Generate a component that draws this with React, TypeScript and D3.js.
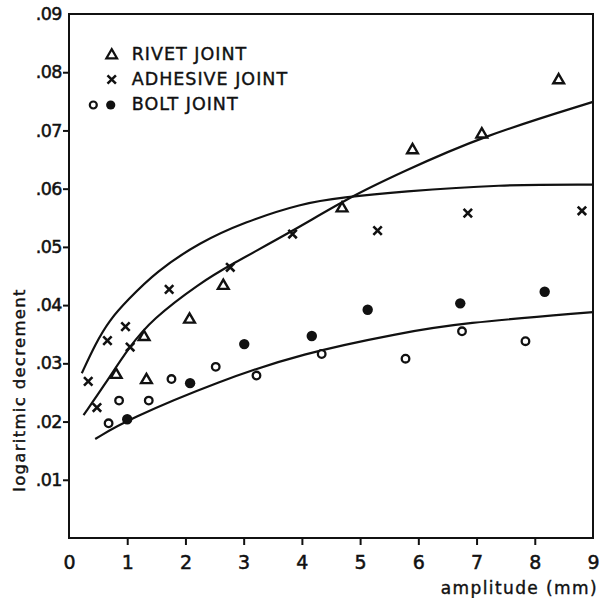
import React, { useEffect, useRef } from 'react';
import * as d3 from 'd3';

// amplitude (mm) vs logaritmic decrement
const rivetX = [0.81, 1.29, 1.33, 2.07, 2.65, 4.69, 5.90, 7.09, 8.41];
const rivetY = [0.0282, 0.0347, 0.0273, 0.0377, 0.0435, 0.0568, 0.0668, 0.0695, 0.0788];

const adhesiveX = [0.33, 0.48, 0.66, 0.97, 1.05, 1.72, 2.77, 3.84, 5.30, 6.85, 8.81];
const adhesiveY = [0.0269, 0.0224, 0.0339, 0.0363, 0.0328, 0.0427, 0.0465, 0.0522, 0.0528, 0.0558, 0.0562];

const boltOpenX = [0.68, 0.86, 1.37, 1.76, 2.52, 3.22, 4.34, 5.78, 6.75, 7.84];
const boltOpenY = [0.0197, 0.0236, 0.0236, 0.0273, 0.0294, 0.0279, 0.0316, 0.0308, 0.0355, 0.0338];

const boltFilledX = [1.0, 2.08, 3.01, 4.17, 5.13, 6.72, 8.17];
const boltFilledY = [0.0204, 0.0266, 0.0333, 0.0347, 0.0392, 0.0403, 0.0423];

// fitted curves, sampled along the drawn lines
const upperCurveX = [0.22, 0.45, 0.7, 1.0, 1.5, 2.25, 3.0, 4.0, 4.7, 5.7, 7.4, 9.0];
const upperCurveY = [0.0283, 0.0333, 0.0375, 0.0408, 0.0458, 0.0508, 0.0542, 0.0575, 0.0585, 0.0595, 0.0607, 0.0607];

const middleCurveX = [0.25, 0.59, 1.04, 1.42, 2.25, 2.77, 3.84, 4.83, 5.69, 7.09, 9.0];
const middleCurveY = [0.0211, 0.0260, 0.0329, 0.0375, 0.0438, 0.0469, 0.0527, 0.0586, 0.0627, 0.0690, 0.0749];

const lowerCurveX = [0.45, 0.99, 2.59, 4.0, 5.69, 6.72, 9.0];
const lowerCurveY = [0.0170, 0.0203, 0.0270, 0.0317, 0.0352, 0.0369, 0.0388];

const xTicks = [0, 1, 2, 3, 4, 5, 6, 7, 8, 9];
const yTicks = [0.01, 0.02, 0.03, 0.04, 0.05, 0.06, 0.07, 0.08, 0.09];

const legendLabels = ['RIVET JOINT', 'ADHESIVE JOINT', 'BOLT JOINT'];

const FONT = "'DejaVu Sans', sans-serif";
const INK = '#111';

const zip = (xs: number[], ys: number[]) => xs.map((x, i) => [x, ys[i]] as [number, number]);

export default function App() {
    const ref = useRef<SVGSVGElement>(null);

    useEffect(() => {
        const svg = d3.select(ref.current);
        svg.selectAll('*').remove();

        const x = d3.scaleLinear().domain([0, 9]).range([69, 593]);
        const y = d3.scaleLinear().domain([0, 0.09]).range([538, 14]);

        // frame
        svg.append('rect')
            .attr('x', x(0))
            .attr('y', y(0.09))
            .attr('width', x(9) - x(0))
            .attr('height', y(0) - y(0.09))
            .attr('fill', 'none')
            .attr('stroke', INK)
            .attr('stroke-width', 2);

        // x axis
        const xAxis = svg.append('g')
            .attr('transform', 'translate(0,' + y(0) + ')')
            .call(d3.axisBottom(x).tickValues(xTicks).tickSize(7).tickPadding(11).tickFormat(d3.format('d')));
        xAxis.select('.domain').remove();
        xAxis.selectAll('.tick line')
            .attr('stroke', INK)
            .attr('stroke-width', 2)
            .attr('display', (d: any) => (d === 0 || d === 9) ? 'none' : null);
        xAxis.selectAll('.tick text')
            .attr('fill', INK)
            .attr('stroke', INK)
            .attr('stroke-width', 0.5)
            .attr('font-size', 19)
            .attr('font-family', FONT);

        // y axis
        const yAxis = svg.append('g')
            .attr('transform', 'translate(' + x(0) + ',0)')
            .call(d3.axisLeft(y).tickValues(yTicks).tickSize(6).tickPadding(1)
                .tickFormat((d: any) => d3.format('.2f')(d).replace(/^0/, '')));
        yAxis.select('.domain').remove();
        yAxis.selectAll('.tick line')
            .attr('stroke', INK)
            .attr('stroke-width', 2)
            .attr('display', (d: any) => d === 0.09 ? 'none' : null);
        yAxis.selectAll('.tick text')
            .attr('fill', INK)
            .attr('stroke', INK)
            .attr('stroke-width', 0.5)
            .attr('font-size', 17.5)
            .attr('letter-spacing', -0.5)
            .attr('font-family', FONT);

        // axis titles
        svg.append('text')
            .attr('x', 598)
            .attr('y', 594)
            .attr('text-anchor', 'end')
            .attr('font-size', 17)
            .attr('letter-spacing', 1.4)
            .attr('font-family', FONT)
            .attr('fill', INK)
            .attr('stroke', INK)
            .attr('stroke-width', 0.4)
            .text('amplitude (mm)');

        svg.append('text')
            .attr('transform', 'translate(25,390) rotate(-90)')
            .attr('text-anchor', 'middle')
            .attr('font-size', 16.5)
            .attr('letter-spacing', 1.3)
            .attr('font-family', FONT)
            .attr('fill', INK)
            .attr('stroke', INK)
            .attr('stroke-width', 0.4)
            .text('logaritmic decrement');

        // curves
        const line = d3.line<[number, number]>()
            .x(d => x(d[0]))
            .y(d => y(d[1]))
            .curve(d3.curveBasis);

        [zip(upperCurveX, upperCurveY), zip(middleCurveX, middleCurveY), zip(lowerCurveX, lowerCurveY)]
            .forEach(pts => {
                svg.append('path')
                    .attr('d', line(pts))
                    .attr('fill', 'none')
                    .attr('stroke', INK)
                    .attr('stroke-width', 2.2);
            });

        // markers
        const tri = d3.symbol().type(d3.symbolTriangle).size(50);
        const cross = d3.symbol().type(d3.symbolTimes).size(48);

        svg.selectAll('.rivet')
            .data(zip(rivetX, rivetY))
            .enter().append('path')
            .attr('class', 'rivet')
            .attr('d', tri as any)
            .attr('transform', d => 'translate(' + x(d[0]) + ',' + (y(d[1]) + 1) + ')')
            .attr('fill', 'white')
            .attr('stroke', INK)
            .attr('stroke-width', 2.4);

        svg.selectAll('.adhesive')
            .data(zip(adhesiveX, adhesiveY))
            .enter().append('path')
            .attr('class', 'adhesive')
            .attr('d', cross as any)
            .attr('transform', d => 'translate(' + x(d[0]) + ',' + y(d[1]) + ')')
            .attr('fill', 'none')
            .attr('stroke', INK)
            .attr('stroke-width', 2.6);

        svg.selectAll('.boltOpen')
            .data(zip(boltOpenX, boltOpenY))
            .enter().append('circle')
            .attr('class', 'boltOpen')
            .attr('cx', d => x(d[0]))
            .attr('cy', d => y(d[1]))
            .attr('r', 3.8)
            .attr('fill', 'white')
            .attr('stroke', INK)
            .attr('stroke-width', 2.3);

        svg.selectAll('.boltFilled')
            .data(zip(boltFilledX, boltFilledY))
            .enter().append('circle')
            .attr('class', 'boltFilled')
            .attr('cx', d => x(d[0]))
            .attr('cy', d => y(d[1]))
            .attr('r', 5.2)
            .attr('fill', INK);

        // legend
        const legend = svg.append('g');
        legend.append('path')
            .attr('d', tri as any)
            .attr('transform', 'translate(111.7,55.3)')
            .attr('fill', 'white')
            .attr('stroke', INK)
            .attr('stroke-width', 2.2);
        legend.append('path')
            .attr('d', cross as any)
            .attr('transform', 'translate(111.7,79.5)')
            .attr('fill', 'none')
            .attr('stroke', INK)
            .attr('stroke-width', 2.5);
        legend.append('circle')
            .attr('cx', 93.3).attr('cy', 105).attr('r', 3.5)
            .attr('fill', 'white').attr('stroke', INK).attr('stroke-width', 2.2);
        legend.append('circle')
            .attr('cx', 110.7).attr('cy', 105).attr('r', 4.6)
            .attr('fill', INK);

        legend.selectAll('text')
            .data(legendLabels)
            .enter().append('text')
            .attr('x', 131.7)
            .attr('y', (d, i) => 60 + i * 25)
            .attr('font-size', 17.5)
            .attr('letter-spacing', 1)
            .attr('font-family', FONT)
            .attr('fill', INK)
            .attr('stroke', INK)
            .attr('stroke-width', 0.4)
            .text(d => d);
    }, []);

    return (
        <svg
            ref={ref}
            width={600}
            height={598}
            style={{ position: 'absolute', left: 0, top: 0, background: 'white' }}
        />
    );
}
